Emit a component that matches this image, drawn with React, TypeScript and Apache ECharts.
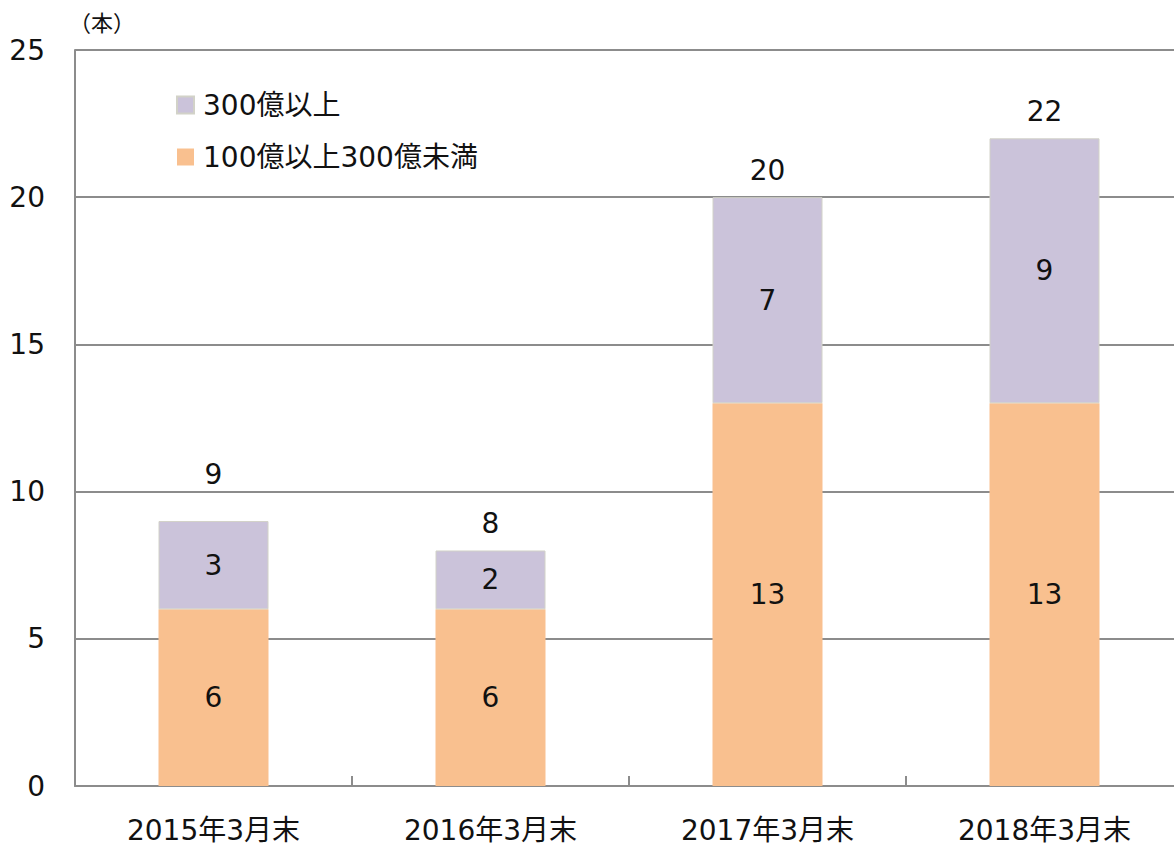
import React, { useEffect, useRef } from "react";
import * as echarts from "echarts";

const categories = ["2015年3月末", "2016年3月末", "2017年3月末", "2018年3月末"];
const seriesNames = ["100億以上300億未満", "300億以上"];
const mid = [6, 6, 13, 13];
const large = [3, 2, 7, 9];
const totals = [9, 8, 20, 22];
const yTicks = [0, 5, 10, 15, 20, 25];

const FONT = "'DejaVu Sans', 'Noto Sans CJK JP', sans-serif";

export default function App() {
  const ref = useRef<HTMLDivElement>(null);
  useEffect(() => {
    if (!ref.current) return;
    const chart = echarts.init(ref.current, null, { renderer: "svg" });
    const labelStyle = { color: "#111", fontSize: 28, fontFamily: FONT };
    chart.setOption({
      animation: false,
      backgroundColor: "#fff",
      textStyle: { fontFamily: FONT },
      legend: {
        data: [seriesNames[1], seriesNames[0]],
        orient: "vertical",
        left: 171,
        top: 86,
        itemWidth: 17,
        itemHeight: 17,
        itemGap: 24,
        icon: "rect",
        textStyle: { fontSize: 28, color: "#111", fontFamily: FONT, padding: [0, 0, 0, 4] },
      },
      graphic: [
        {
          type: "text",
          left: 69,
          top: 12,
          style: { text: "（本）", fontSize: 22, fill: "#111", fontFamily: FONT },
        },
      ],
      grid: { left: 75, top: 50, right: 0, bottom: 62 },
      xAxis: {
        type: "category",
        data: categories,
        axisLine: { show: true, lineStyle: { color: "#8c8c8c", width: 2 } },
        axisTick: { show: true, inside: true, length: 10, lineStyle: { color: "#8c8c8c", width: 2 } },
        axisLabel: { color: "#111", fontSize: 28, margin: 30, fontFamily: FONT },
      },
      yAxis: {
        type: "value",
        min: yTicks[0],
        max: yTicks[yTicks.length - 1],
        interval: 5,
        axisLine: { show: true, lineStyle: { color: "#8c8c8c", width: 2 } },
        axisTick: { show: false },
        axisLabel: { color: "#111", fontSize: 28, margin: 30, fontFamily: FONT },
        splitLine: { show: true, lineStyle: { color: "#8c8c8c", width: 2 } },
      },
      series: [
        {
          name: seriesNames[0],
          type: "bar",
          stack: "t",
          barWidth: 110,
          data: mid,
          itemStyle: { color: "#F9C08F" },
          label: { show: true, position: "inside", ...labelStyle },
        },
        {
          name: seriesNames[1],
          type: "bar",
          stack: "t",
          barWidth: 110,
          data: large,
          itemStyle: { color: "#CBC3DA", borderColor: "#d2d2c8", borderWidth: 1 },
          label: { show: true, position: "inside", ...labelStyle },
        },
        {
          name: "total",
          type: "line",
          data: totals.map((v, i) => ({
            value: v,
            label: { show: true, distance: i === 0 ? 32 : 12 },
          })),
          symbol: "circle",
          symbolSize: 2,
          showSymbol: true,
          itemStyle: { color: "rgba(0,0,0,0)", borderWidth: 0 },
          lineStyle: { width: 0, color: "rgba(0,0,0,0)" },
          silent: true,
          label: { show: true, position: "top", ...labelStyle },
          z: 5,
        },
      ],
    });
    return () => chart.dispose();
  }, []);
  return (
    <div
      ref={ref}
      style={{ position: "fixed", left: 0, top: 0, width: 1183, height: 848 }}
    />
  );
}
